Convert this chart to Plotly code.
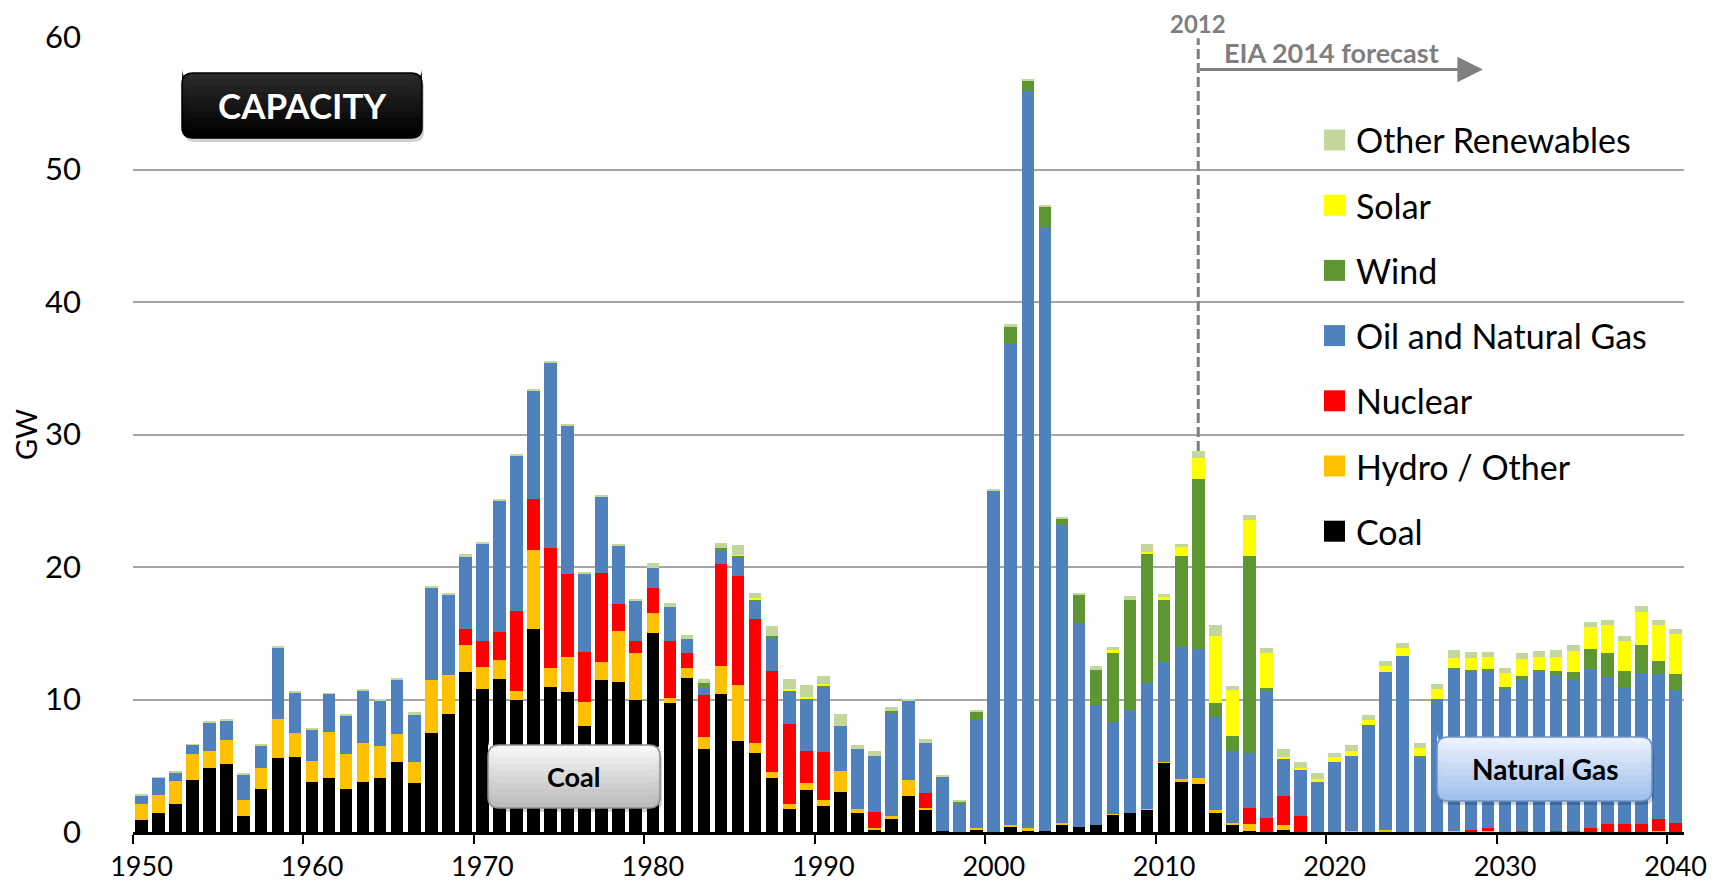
import plotly.graph_objects as go

# ---------------------------------------------------------------- DATA
years = list(range(1950, 2041))

coal = [0.9, 1.4, 2.15, 3.9, 4.8, 5.15, 1.2, 3.25, 5.6, 5.65,
        3.75, 4.1, 3.25, 3.75, 4.1, 5.3, 3.7, 7.45, 8.9, 12.05,
        10.8, 11.55, 10.0, 15.35, 10.95, 10.6, 8.0, 11.5, 11.35, 9.95,
        15.0, 9.7, 11.6, 6.3, 10.45, 6.85, 5.95, 4.05, 1.7, 3.15,
        1.95, 3.05, 1.4, 0.12, 0.95, 2.7, 1.7, 0.05, 0, 0.22,
        0, 0.4, 0.05, 0.05, 0.6, 0.4, 0.5, 1.35, 1.4, 1.7,
        5.25, 3.75, 3.6, 1.5, 0.6, 0.05, 0, 0.15, 0, 0,
        0, 0, 0, 0, 0, 0, 0, 0, 0, 0,
        0, 0, 0, 0, 0, 0, 0, 0, 0, 0,
        0]

hydro = [1.25, 1.4, 1.7, 2.0, 1.35, 1.8, 1.25, 1.55, 2.9, 1.8,
         1.6, 3.45, 2.6, 3.0, 2.4, 2.1, 1.6, 4.0, 2.95, 2.05,
         1.65, 1.4, 0.65, 5.9, 1.45, 2.6, 1.8, 1.35, 3.85, 3.55,
         1.55, 0.4, 0.8, 0.9, 2.05, 4.25, 0.75, 0.5, 0.45, 0.55,
         0.5, 1.55, 0.3, 0.18, 0.25, 1.2, 0.1, 0, 0, 0.1,
         0, 0.15, 0.25, 0, 0.08, 0, 0, 0.03, 0, 0.05,
         0.05, 0.25, 0.5, 0.15, 0.08, 0.55, 0, 0.4, 0, 0,
         0, 0.1, 0, 0.15, 0, 0, 0, 0.08, 0, 0.08,
         0, 0, 0, 0, 0, 0, 0, 0, 0, 0.1,
         0]

nuclear = [0, 0, 0, 0, 0, 0, 0, 0, 0, 0,
           0, 0, 0, 0, 0, 0, 0, 0, 0, 1.25,
           2.0, 2.15, 6.05, 3.9, 9.05, 6.25, 3.75, 6.7, 2.0, 0.9,
           1.9, 4.3, 1.1, 3.15, 7.75, 8.2, 9.4, 7.6, 6.0, 2.45,
           3.6, 0, 0, 1.2, 0, 0, 1.15, 0, 0, 0,
           0, 0, 0, 0, 0, 0, 0, 0, 0, 0,
           0, 0, 0, 0, 0, 1.2, 1.05, 2.2, 1.2, 0,
           0, 0, 0, 0, 0, 0, 0, 0, 0.15, 0.2,
           0, 0.08, 0, 0.1, 0.1, 0.28, 0.6, 0.58, 0.63, 0.9,
           0.65]

gas = [0.6, 1.3, 0.65, 0.7, 2.1, 1.45, 1.9, 1.75, 5.45, 3.05,
       2.4, 2.9, 2.95, 3.9, 3.45, 4.05, 3.6, 7.0, 6.05, 5.45,
       7.3, 9.85, 11.65, 8.2, 14.0, 11.25, 5.9, 5.75, 4.45, 3.05,
       1.45, 2.55, 1.05, 0.55, 1.0, 1.5, 1.4, 2.5, 2.55, 3.9,
       4.9, 3.4, 4.6, 4.2, 7.8, 6.0, 3.75, 4.15, 2.1, 8.1,
       25.8, 36.25, 55.6, 45.6, 22.5, 15.4, 9.1, 6.9, 7.8, 9.5,
       7.55, 10.0, 9.7, 7.05, 5.45, 4.2, 9.6, 2.8, 3.45, 3.8,
       5.3, 5.65, 8.05, 11.9, 13.3, 5.7, 10.05, 12.25, 12.0, 11.9,
       10.8, 11.5, 12.15, 11.75, 11.45, 12.0, 11.1, 10.4, 11.4, 10.95,
       10.05]

wind = [0, 0, 0, 0, 0, 0, 0, 0, 0, 0,
        0, 0, 0, 0, 0, 0, 0, 0, 0, 0,
        0, 0, 0, 0, 0, 0, 0, 0, 0, 0,
        0, 0, 0, 0.35, 0.15, 0.05, 0.05, 0.15, 0, 0,
        0.12, 0, 0, 0, 0.1, 0, 0, 0, 0.17, 0.68,
        0, 1.35, 0.8, 1.5, 0.45, 2.15, 2.65, 5.3, 8.3, 9.8,
        4.65, 6.8, 12.85, 1.0, 1.1, 14.8, 0.2, 0, 0, 0,
        0, 0, 0, 0, 0, 0.05, 0, 0.07, 0.1, 0.1,
        0.15, 0.2, 0.1, 0.33, 0.55, 1.5, 1.8, 1.2, 2.05, 0.95,
        1.25]

solar = [0, 0, 0, 0, 0, 0, 0, 0, 0, 0,
         0, 0, 0, 0, 0, 0, 0, 0, 0, 0,
         0, 0, 0, 0, 0, 0, 0, 0, 0, 0,
         0, 0, 0, 0, 0, 0.05, 0.08, 0, 0.12, 0.15,
         0.07, 0, 0, 0, 0, 0, 0, 0, 0, 0,
         0, 0, 0, 0, 0, 0, 0, 0.12, 0, 0.1,
         0.25, 0.73, 1.6, 5.1, 3.45, 2.75, 2.65, 0.1, 0.17, 0.22,
         0.35, 0.4, 0.43, 0.48, 0.55, 0.6, 0.73, 0.75, 0.9, 0.95,
         1.05, 1.25, 0.95, 1.05, 1.55, 1.7, 2.15, 2.25, 2.5, 2.7,
         3.0]

other_renew = [0.05, 0.05, 0.08, 0.03, 0.1, 0.1, 0.07, 0.07, 0.1, 0.1,
               0.1, 0.03, 0.08, 0.1, 0.1, 0.2, 0.13, 0.13, 0.13, 0.15,
               0.08, 0.18, 0.18, 0.1, 0.1, 0.13, 0.2, 0.13, 0.12, 0.15,
               0.4, 0.33, 0.33, 0.33, 0.43, 0.75, 0.42, 0.73, 0.73, 0.9,
               0.63, 0.87, 0.23, 0.4, 0.33, 0.15, 0.33, 0.12, 0.18, 0.12,
               0.12, 0.16, 0.08, 0.2, 0.12, 0.05, 0.28, 0.28, 0.32, 0.58,
               0.25, 0.22, 0.5, 0.8, 0.35, 0.38, 0.38, 0.65, 0.5, 0.4,
               0.35, 0.42, 0.37, 0.37, 0.43, 0.4, 0.4, 0.6, 0.4, 0.37,
               0.4, 0.45, 0.45, 0.5, 0.45, 0.37, 0.37, 0.4, 0.48, 0.4,
               0.38]

series_names = ["Coal", "Hydro / Other", "Nuclear", "Oil and Natural Gas",
                "Wind", "Solar", "Other Renewables"]
series_values = [coal, hydro, nuclear, gas, wind, solar, other_renew]
series_colors = ["#000000", "#FFC000", "#FF0000", "#4F81BD",
                 "#5E9732", "#FFFF00", "#C3D69B"]

x_tick_years = list(range(1950, 2041, 10))
forecast_start = 2012

# ---------------------------------------------------------------- LAYOUT HELPERS
# the page body has an 8px margin, so the figure is a bit smaller than the window
OFF = 8
W, H = 1725 - 2 * OFF, 889 - 2 * OFF
ML, MR, MT, MB = 133 - OFF, 33, 37 - OFF, 49
PW, PH = W - ML - MR, H - MT - MB
FONT = "Lato"


def px(x):
    # window pixel -> paper x
    return (x - OFF - ML) / PW


def py(y):
    # window pixel -> paper y
    return (H - MB - (y - OFF)) / PH


def rounded_box(x0, y0, x1, y1, r):
    rx, ry = r / PW, r / PH
    a, b, c, d = px(x0), px(x1), py(y1), py(y0)
    return (f"M{a + rx},{c} L{b - rx},{c} Q{b},{c} {b},{c + ry} "
            f"L{b},{d - ry} Q{b},{d} {b - rx},{d} L{a + rx},{d} "
            f"Q{a},{d} {a},{d - ry} L{a},{c + ry} Q{a},{c} {a + rx},{c} Z")


def mix(c1, c2, t):
    a = [int(c1[i:i + 2], 16) for i in (1, 3, 5)]
    b = [int(c2[i:i + 2], 16) for i in (1, 3, 5)]
    return "rgb(%d,%d,%d)" % tuple(round(a[k] + (b[k] - a[k]) * t) for k in range(3))


# ---------------------------------------------------------------- FIGURE
fig = go.Figure()
for name, vals, col in zip(series_names, series_values, series_colors):
    fig.add_trace(go.Bar(x=years, y=vals, name=name, marker_color=col,
                         marker_line_width=0, showlegend=False))

shapes = []
annotations = []

# boxes: (x0, y0, x1, y1, top colour, bottom colour, border, text, text colour, size)
boxes = [(182, 73, 422, 138, "#2a2a2a", "#000000", "#000000", "CAPACITY", "white", 35),
         (488, 745, 660, 808, "#f6f6f6", "#bcbcbc", "#8f8f8f", "Coal", "black", 27),
         (1437, 737, 1652, 801, "#eaf1fb", "#a3c1ee", "#6f93c8", "Natural Gas", "black", 28)]
steps = 10
for x0, y0, x1, y1, ctop, cbot, line, txt, tcol, fs in boxes:
    shapes.append(dict(type="path", xref="paper", yref="paper",
                       path=rounded_box(x0 + 2, y0 + 4, x1 + 2, y1 + 4, 11),
                       fillcolor="rgba(0,0,0,0.18)", line_width=0, layer="above"))
    # vertical gradient: stacked boxes shrinking towards the top
    for k in range(steps):
        yb = y1 - (y1 - y0) * k / steps
        shapes.append(dict(type="path", xref="paper", yref="paper",
                           path=rounded_box(x0, y0, x1, yb, 11),
                           fillcolor=mix(cbot, ctop, k / (steps - 1)),
                           line_width=0, layer="above"))
    shapes.append(dict(type="path", xref="paper", yref="paper",
                       path=rounded_box(x0, y0, x1, y1, 11),
                       fillcolor="rgba(0,0,0,0)", line=dict(color=line, width=1.5),
                       layer="above"))
    annotations.append(dict(xref="paper", yref="paper", x=px((x0 + x1) / 2),
                            y=py((y0 + y1) / 2), text=f"<b>{txt}</b>", showarrow=False,
                            font=dict(family=FONT, size=fs, color=tcol),
                            xanchor="center", yanchor="middle"))

# forecast marker
top_2012 = sum(v[years.index(forecast_start)] for v in series_values)
shapes.append(dict(type="line", xref="x", yref="y", x0=forecast_start, x1=forecast_start,
                   y0=top_2012, y1=59.9, line=dict(color="#808080", width=3, dash="10px,4px")))
annotations.append(dict(xref="x", yref="paper", x=forecast_start, y=py(23),
                        text="<b>2012</b>", showarrow=False,
                        font=dict(family=FONT, size=24, color="#7f7f7f"),
                        xanchor="center", yanchor="middle"))
annotations.append(dict(xref="x", yref="y", axref="x", ayref="y",
                        x=2028.7, y=57.55, ax=forecast_start, ay=57.55, text="",
                        showarrow=True, arrowhead=2, arrowsize=1.7, arrowwidth=3,
                        arrowcolor="#808080"))
annotations.append(dict(xref="x", yref="paper", x=2013.4, y=py(52),
                        text="<b>EIA 2014 forecast</b>", showarrow=False,
                        font=dict(family=FONT, size=27, color="#7f7f7f"),
                        xanchor="left", yanchor="middle"))

# legend (drawn by hand for large swatches), top entry = last series
for i, (name, col) in enumerate(zip(series_names[::-1], series_colors[::-1])):
    cy = 140 + i * 65.2
    shapes.append(dict(type="rect", xref="paper", yref="paper",
                       x0=px(1324), x1=px(1345), y0=py(cy + 10.5), y1=py(cy - 10.5),
                       fillcolor=col, line_width=0))
    annotations.append(dict(xref="paper", yref="paper", x=px(1354), y=py(cy),
                            text=name, showarrow=False, xanchor="left", yanchor="middle",
                            font=dict(family=FONT, size=34, color="black")))

fig.update_layout(
    width=W, height=H,
    margin=dict(l=ML, r=MR, t=MT, b=MB, autoexpand=False),
    paper_bgcolor="white", plot_bgcolor="white",
    barmode="stack", bargap=0.26,
    font=dict(family=FONT, color="black"),
    shapes=shapes, annotations=annotations,
    xaxis=dict(range=[1949.5, 2040.5], tickmode="array", tickvals=x_tick_years,
               ticks="outside", ticklen=9, tickcolor="rgba(0,0,0,0)",
               showline=True, linecolor="black", linewidth=2.5,
               showgrid=False, tickfont=dict(size=27), ticklabelstandoff=0,
               minor=dict(tickmode="array", tickvals=[y - 0.5 for y in x_tick_years],
                          ticks="outside", ticklen=9, tickwidth=2, tickcolor="black")),
    yaxis=dict(range=[0, 60], dtick=10, showgrid=True, gridcolor="#a6a6a6", gridwidth=1.5,
               zeroline=False, showline=False, ticks="", tickfont=dict(size=31),
               ticklabelstandoff=51,
               title=dict(text="GW", font=dict(size=29), standoff=1)),
)

fig.write_html("out.html")
